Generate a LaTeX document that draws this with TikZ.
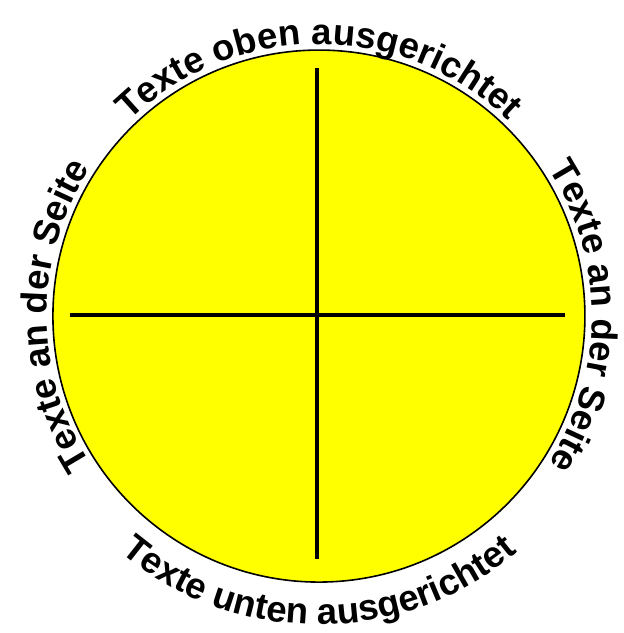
\documentclass[tikz,border=0pt]{standalone}
\usepackage{fontspec}
\setmainfont{Liberation Sans}
\usepackage{tikz}
\usetikzlibrary{decorations.text}
\definecolor{kreisgelb}{RGB}{255,255,0}
\newcommand\kreisschrift{\fontsize{36.5}{44}\selectfont\bfseries}
\tikzset{
  bogentext/.style={decorate, decoration={text along path, text align=center, text={|\kreisschrift|#1}}}
}

\begin{document}
\begin{tikzpicture}
    \useasboundingbox (-11.21,-11.14) rectangle (10.72,11.11);

    % Kreis
    \coordinate (m) at (0,0);
    \draw[fill=kreisgelb, line width=1.6pt] (m) circle (9.35);

    % Kreuz
    \draw[line width=4.5pt] (-8.75,0.03) -- (8.65,0.03);
    \draw[line width=4pt] (-0.05,8.72) -- (-0.05,-8.54);

    % oben und unten
    \path[bogentext={Texte oben ausgerichtet}] (-9.56,0) arc[start angle=180, end angle=0, radius=9.56];
    \path[bogentext={Texte unten ausgerichtet}] (-10.84,0) arc[start angle=180, end angle=360, radius=10.84];

    % an der Seite
    \path[bogentext={Texte an der Seite}] (0,-9.56) arc[start angle=270, end angle=90, radius=9.56];
    \path[bogentext={Texte an der Seite}] (0,9.6) arc[start angle=90, end angle=-90, radius=9.6];
\end{tikzpicture}
\end{document}
